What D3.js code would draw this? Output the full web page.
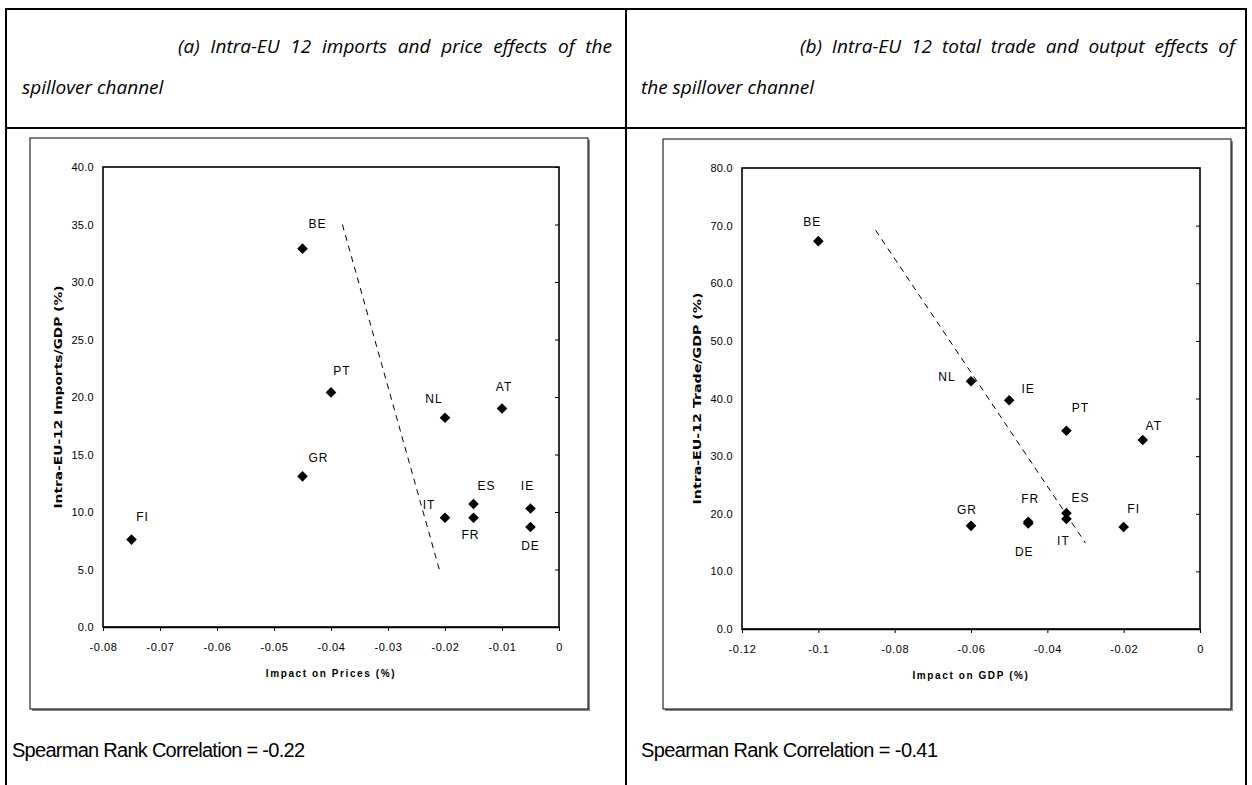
<!DOCTYPE html>
<html>
<head>
<meta charset="utf-8">
<script src="https://cdn.jsdelivr.net/npm/d3@7/dist/d3.min.js"></script>
<style>
  html, body { margin: 0; padding: 0; background: #fff; }
  svg { display: block; }
</style>
</head>
<body>
<svg id="fig" width="1252" height="785"></svg>
<script>
// Panel (a): intra-EU 12 imports vs price impact
const countriesA = ["BE", "PT", "NL", "AT", "GR", "ES", "IE", "IT", "FR", "DE", "FI"];
const priceImpactA = [-0.045, -0.040, -0.020, -0.010, -0.045, -0.015, -0.005, -0.020, -0.015, -0.005, -0.075];
const importsGdpA = [32.9, 20.4, 18.2, 19.0, 13.1, 10.7, 10.3, 9.5, 9.5, 8.7, 7.6];
const trendA = [[-0.038, 35.0], [-0.021, 5.0]];
const xTicksA = [-0.08, -0.07, -0.06, -0.05, -0.04, -0.03, -0.02, -0.01, 0];
const xTickLabelsA = ["-0.08", "-0.07", "-0.06", "-0.05", "-0.04", "-0.03", "-0.02", "-0.01", "0"];
const yTicksA = [0, 5, 10, 15, 20, 25, 30, 35, 40];
const yTickLabelsA = ["0.0", "5.0", "10.0", "15.0", "20.0", "25.0", "30.0", "35.0", "40.0"];

// Panel (b): intra-EU 12 total trade vs output impact
const countriesB = ["BE", "NL", "IE", "PT", "AT", "GR", "FR", "DE", "ES", "IT", "FI"];
const gdpImpactB = [-0.100, -0.060, -0.050, -0.035, -0.015, -0.060, -0.045, -0.045, -0.035, -0.035, -0.020];
const tradeGdpB = [67.3, 43.0, 39.7, 34.4, 32.8, 17.9, 18.6, 18.3, 20.1, 19.1, 17.7];
const trendB = [[-0.085, 69.2], [-0.030, 14.9]];
const xTicksB = [-0.12, -0.10, -0.08, -0.06, -0.04, -0.02, 0];
const xTickLabelsB = ["-0.12", "-0.1", "-0.08", "-0.06", "-0.04", "-0.02", "0"];
const yTicksB = [0, 10, 20, 30, 40, 50, 60, 70, 80];
const yTickLabelsB = ["0.0", "10.0", "20.0", "30.0", "40.0", "50.0", "60.0", "70.0", "80.0"];

// Label placement around each marker (pixel offsets from the point)
const labelOffsetA = {
  BE: [15, -25], PT: [11, -22], NL: [-11, -19], AT: [2, -22], GR: [16, -19],
  ES: [13, -18], IE: [-3, -23], IT: [-16, -13], FR: [-3, 17], DE: [0, 19], FI: [11, -23]
};
const labelOffsetB = {
  BE: [-6, -19], NL: [-24, -4], IE: [19, -11], PT: [14, -23], AT: [11, -14],
  GR: [-4, -16], FR: [2, -23], DE: [-4, 28], ES: [14, -15], IT: [-3, 22], FI: [10, -18]
};

const svg = d3.select("#fig");

// ---- Table grid around the two panels ----
const grid = svg.append("g").attr("stroke", "#000").attr("stroke-width", 2).attr("fill", "none");
grid.append("line").attr("x1", 6).attr("x2", 1246).attr("y1", 9).attr("y2", 9);
grid.append("line").attr("x1", 6).attr("x2", 1246).attr("y1", 128).attr("y2", 128);
grid.append("line").attr("x1", 6).attr("x2", 6).attr("y1", 8).attr("y2", 785);
grid.append("line").attr("x1", 626).attr("x2", 626).attr("y1", 8).attr("y2", 785);
grid.append("line").attr("x1", 1246).attr("x2", 1246).attr("y1", 8).attr("y2", 785);

// ---- Panel headings (first line justified by widening the word gaps) ----
const titleFont = "'Open Sans', 'DejaVu Sans', sans-serif";
function heading(x1, x2, y, text, justify) {
  const t = svg.append("text")
    .attr("x", x1).attr("y", y)
    .attr("font-family", titleFont).attr("font-style", "italic")
    .attr("font-size", 19).attr("fill", "#000")
    .text(text);
  if (justify) {
    const natural = t.node().getComputedTextLength();
    const gaps = text.split(" ").length - 1;
    t.attr("word-spacing", Math.max(0, (x2 - x1 - natural) / gaps));
  }
}
heading(178, 612, 53, "(a) Intra-EU 12 imports and price effects of the", true);
heading(22, null, 94, "spillover channel", false);
heading(800, 1235, 53, "(b) Intra-EU 12 total trade and output effects of", true);
heading(641, null, 94, "the spillover channel", false);

// ---- Spearman notes ----
function note(x, len, text) {
  svg.append("text")
    .attr("x", x).attr("y", 757)
    .attr("font-family", "'Liberation Sans Narrow', 'Liberation Sans', Arial, sans-serif")
    .attr("font-size", 20).attr("fill", "#000")
    .attr("textLength", len).attr("lengthAdjust", "spacing")
    .text(text);
}
note(12, 293, "Spearman Rank Correlation = -0.22");
note(641, 297, "Spearman Rank Correlation =  -0.41");

// ---- One scatter chart ----
function scatter(cfg) {
  const g = svg.append("g");
  const f = cfg.frame;

  // chart area with drop shadow
  g.append("rect")
    .attr("x", f.x + 2).attr("y", f.y + 2).attr("width", f.w).attr("height", f.h)
    .attr("fill", "#8a8a8a");
  g.append("rect")
    .attr("x", f.x).attr("y", f.y).attr("width", f.w).attr("height", f.h)
    .attr("fill", "#fff").attr("stroke", "#000").attr("stroke-width", 1);

  const x = d3.scaleLinear().domain(cfg.xDomain).range([cfg.plot.left, cfg.plot.right]);
  const y = d3.scaleLinear().domain(cfg.yDomain).range([cfg.plot.bottom, cfg.plot.top]);

  // plot area border
  g.append("rect")
    .attr("x", cfg.plot.left).attr("y", cfg.plot.top)
    .attr("width", cfg.plot.right - cfg.plot.left)
    .attr("height", cfg.plot.bottom - cfg.plot.top)
    .attr("fill", "none").attr("stroke", "#000").attr("stroke-width", 1.6);

  const tickFont = "Arial, 'Liberation Sans', sans-serif";

  // x axis
  const xAxis = g.append("g")
    .attr("transform", `translate(0,${cfg.plot.bottom})`)
    .call(d3.axisBottom(x).tickValues(cfg.xTicks)
      .tickFormat((d, i) => cfg.xTickLabels[i])
      .tickSizeInner(4).tickSizeOuter(0).tickPadding(12));
  xAxis.select(".domain").attr("stroke", "#000").attr("stroke-width", 1.6);
  xAxis.selectAll(".tick line").attr("stroke", "#000").attr("stroke-width", 1);
  xAxis.selectAll("text").attr("font-family", tickFont).attr("font-size", 11)
    .attr("letter-spacing", 0.6).attr("fill", "#000");

  // y axis labels on the left edge
  const yAxis = g.append("g")
    .attr("transform", `translate(${cfg.plot.left},0)`)
    .call(d3.axisLeft(y).tickValues(cfg.yTicks)
      .tickFormat((d, i) => cfg.yTickLabels[i])
      .tickSize(0).tickPadding(9));
  yAxis.select(".domain").remove();
  yAxis.selectAll("text").attr("font-family", tickFont).attr("font-size", 11)
    .attr("letter-spacing", 0.3).attr("fill", "#000");

  // y tick marks where the value axis crosses (x = 0, right edge)
  const yMarks = g.append("g")
    .attr("transform", `translate(${x(0)},0)`)
    .call(d3.axisRight(y).tickValues(cfg.yTicks).tickFormat("").tickSizeInner(-4).tickSizeOuter(0));
  yMarks.select(".domain").remove();
  yMarks.selectAll(".tick line").attr("stroke", "#000").attr("stroke-width", 1);

  // axis titles
  g.append("text")
    .attr("x", (cfg.plot.left + cfg.plot.right) / 2).attr("y", cfg.plot.bottom + 50)
    .attr("text-anchor", "middle")
    .attr("font-family", tickFont).attr("font-weight", "bold")
    .attr("font-size", 10).attr("letter-spacing", 1.6).attr("fill", "#000")
    .text(cfg.xTitle);
  const cy = (cfg.plot.top + cfg.plot.bottom) / 2;
  g.append("text")
    .attr("transform", `translate(${cfg.yTitleX},${cy}) rotate(-90)`)
    .attr("text-anchor", "middle").attr("dy", "0.35em")
    .attr("font-family", "'DejaVu Sans', Arial, sans-serif").attr("font-weight", "bold")
    .attr("font-size", 10).attr("fill", "#000")
    .attr("textLength", cfg.yTitleLen).attr("lengthAdjust", "spacingAndGlyphs")
    .text(cfg.yTitle);

  // dashed trend line
  g.append("line")
    .attr("x1", x(cfg.trend[0][0])).attr("y1", y(cfg.trend[0][1]))
    .attr("x2", x(cfg.trend[1][0])).attr("y2", y(cfg.trend[1][1]))
    .attr("stroke", "#000").attr("stroke-width", 1).attr("stroke-dasharray", "6,5");

  // diamonds
  const diamond = d3.symbol().type(d3.symbolDiamond2).size(72);
  const pts = cfg.names.map((n, i) => ({ n, vx: cfg.xs[i], vy: cfg.ys[i] }));
  g.selectAll("path.pt").data(pts).join("path")
    .attr("class", "pt")
    .attr("d", diamond)
    .attr("transform", d => `translate(${x(d.vx)},${y(d.vy)})`)
    .attr("fill", "#000");

  // country labels
  g.selectAll("text.lbl").data(pts).join("text")
    .attr("class", "lbl")
    .attr("x", d => x(d.vx) + cfg.offsets[d.n][0])
    .attr("y", d => y(d.vy) + cfg.offsets[d.n][1])
    .attr("dy", "0.35em").attr("text-anchor", "middle")
    .attr("font-family", tickFont).attr("font-size", 12)
    .attr("letter-spacing", 1).attr("fill", "#000")
    .text(d => d.n);
}

scatter({
  frame: { x: 30, y: 138, w: 558, h: 571 },
  plot: { left: 103, right: 559, top: 167, bottom: 627 },
  xDomain: [-0.08, 0], yDomain: [0, 40],
  xTicks: xTicksA, xTickLabels: xTickLabelsA,
  yTicks: yTicksA, yTickLabels: yTickLabelsA,
  xTitle: "Impact on Prices (%)",
  yTitle: "Intra-EU-12 Imports/GDP (%)", yTitleX: 58, yTitleLen: 223,
  trend: trendA,
  names: countriesA, xs: priceImpactA, ys: importsGdpA, offsets: labelOffsetA
});

scatter({
  frame: { x: 663, y: 139, w: 568, h: 570 },
  plot: { left: 742, right: 1200, top: 168, bottom: 629 },
  xDomain: [-0.12, 0], yDomain: [0, 80],
  xTicks: xTicksB, xTickLabels: xTickLabelsB,
  yTicks: yTicksB, yTickLabels: yTickLabelsB,
  xTitle: "Impact on GDP (%)",
  yTitle: "Intra-EU-12 Trade/GDP (%)", yTitleX: 697, yTitleLen: 212,
  trend: trendB,
  names: countriesB, xs: gdpImpactB, ys: tradeGdpB, offsets: labelOffsetB
});
</script>
</body>
</html>
